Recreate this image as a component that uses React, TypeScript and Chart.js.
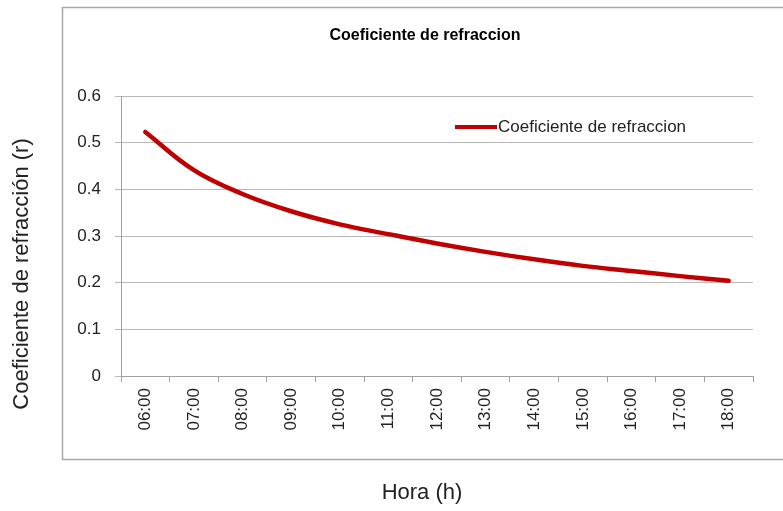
import React, { useEffect, useRef } from "react";
import { Chart, registerables } from "chart.js";

Chart.register(...registerables);

const hours = ["06:00", "07:00", "08:00", "09:00", "10:00", "11:00", "12:00", "13:00", "14:00", "15:00", "16:00", "17:00", "18:00"];
const refraction = [0.523, 0.441, 0.39, 0.353, 0.325, 0.304, 0.284, 0.266, 0.25, 0.236, 0.225, 0.214, 0.204];
const seriesName = "Coeficiente de refraccion";
const chartTitle = "Coeficiente de refraccion";
const yTitle = "Coeficiente de refracción (r)";
const xTitle = "Hora (h)";

const RED = "#c00000";
const AXIS = "#a0a0a0";
const GRID = "#b8b8b8";
const TEXT = "#222222";

const decorPlugin = {
  id: "decor",
  beforeDraw(chart: any) {
    const ctx = chart.ctx;
    ctx.save();
    ctx.fillStyle = "#ffffff";
    ctx.fillRect(0, 0, chart.width, chart.height);
    ctx.strokeStyle = "#a8a8a8";
    ctx.lineWidth = 1.5;
    ctx.strokeRect(62.5, 7.5, chart.width, 452);
    ctx.restore();
  },
  afterDraw(chart: any) {
    const ctx = chart.ctx;
    ctx.save();
    // chart title
    ctx.fillStyle = "#000";
    ctx.font = "bold 16px 'Liberation Sans', Arial, sans-serif";
    ctx.textAlign = "center";
    ctx.textBaseline = "middle";
    ctx.fillText(chartTitle, 425, 36);
    // legend
    ctx.strokeStyle = RED;
    ctx.lineWidth = 4;
    ctx.beginPath();
    ctx.moveTo(455, 127);
    ctx.lineTo(497, 127);
    ctx.stroke();
    ctx.fillStyle = TEXT;
    ctx.font = "17px 'Liberation Sans', Arial, sans-serif";
    ctx.textAlign = "left";
    ctx.fillText(seriesName, 498, 127);
    // axis titles
    ctx.font = "22px 'Liberation Sans', Arial, sans-serif";
    ctx.textAlign = "center";
    ctx.fillText(xTitle, 422, 493);
    ctx.translate(22, 274);
    ctx.rotate(-Math.PI / 2);
    ctx.fillText(yTitle, 0, 0);
    ctx.restore();
  },
};

export default function App() {
  const ref = useRef<HTMLCanvasElement>(null);
  useEffect(() => {
    if (!ref.current) return;
    const chart = new Chart(ref.current, {
      type: "line",
      data: {
        labels: hours,
        datasets: [
          {
            label: seriesName,
            data: refraction,
            borderColor: RED,
            backgroundColor: RED,
            borderWidth: 4.5,
            pointRadius: 0,
            tension: 0.4,
            borderCapStyle: "round",
            fill: false,
          },
        ],
      },
      options: {
        animation: false,
        responsive: false,
        layout: { padding: { left: 62, top: 96, right: 30, bottom: 55 } },
        plugins: { legend: { display: false }, title: { display: false }, tooltip: { enabled: false } },
        scales: {
          x: {
            type: "category",
            offset: true,
            grid: { offset: true, drawOnChartArea: false, tickLength: 6, color: AXIS },
            border: { color: AXIS },
            ticks: {
              minRotation: 90,
              maxRotation: 90,
              padding: 6,
              color: TEXT,
              font: { family: "'Liberation Sans', Arial, sans-serif", size: 17 },
            },
            afterFit: (s: any) => {
              s.height = 80;
            },
          },
          y: {
            min: 0,
            max: 0.6,
            ticks: {
              stepSize: 0.1,
              padding: 14,
              color: TEXT,
              font: { family: "'Liberation Sans', Arial, sans-serif", size: 17 },
              callback: (v: any) => (Number(v) === 0 ? "0" : Number(v).toFixed(1)),
            },
            grid: { color: GRID, tickLength: 6 },
            border: { color: AXIS },
            afterFit: (s: any) => {
              s.width = 59;
            },
          },
        },
      },
      plugins: [decorPlugin],
    } as any);
    return () => chart.destroy();
  }, []);
  return (
    <div style={{ position: "absolute", left: 0, top: 0, width: 783, height: 511 }}>
      <canvas ref={ref} width={783} height={511} style={{ width: 783, height: 511 }} />
    </div>
  );
}
